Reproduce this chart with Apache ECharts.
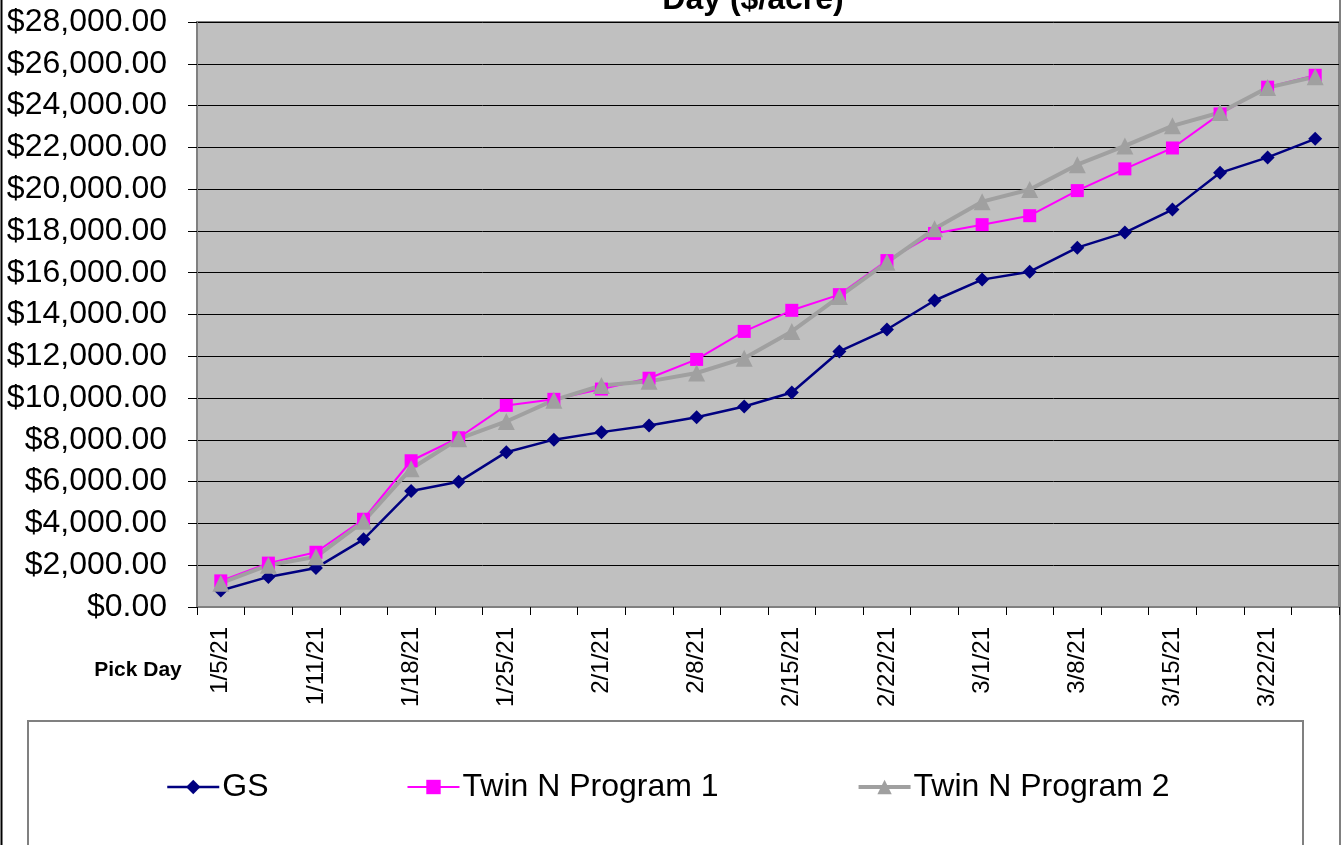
<!DOCTYPE html>
<html>
<head>
<meta charset="utf-8">
<script src="https://cdn.jsdelivr.net/npm/echarts@6/dist/echarts.min.js"></script>
<style>
html,body{margin:0;padding:0;background:#fff;}
#chart{width:1342px;height:845px;}
</style>
</head>
<body>
<div id="chart"></div>
<script>
const categories = ['1/5/21','1/8/21','1/11/21','1/14/21','1/18/21','1/21/21','1/25/21','1/28/21','2/1/21','2/4/21','2/8/21','2/11/21','2/15/21','2/18/21','2/22/21','2/25/21','3/1/21','3/4/21','3/8/21','3/11/21','3/15/21','3/18/21','3/22/21','3/25/21'];
const gsValues = [790, 1440, 1870, 3240, 5550, 5990, 7410, 8010, 8370, 8690, 9080, 9600, 10270, 12230, 13280, 14670, 15670, 16050, 17200, 17920, 19020, 20780, 21520, 22410];
const program1Values = [1250, 2100, 2620, 4200, 7000, 8100, 9650, 9940, 10430, 10950, 11850, 13190, 14200, 14950, 16580, 17880, 18300, 18730, 19930, 20970, 21970, 23600, 24880, 25450];
const program2Values = [1140, 2000, 2400, 4100, 6620, 8050, 8880, 9900, 10600, 10800, 11200, 11910, 13190, 14860, 16500, 18100, 19400, 19980, 21170, 22070, 23030, 23670, 24860, 25380];
const yTicks = { min: 0, max: 28000, step: 2000 };
const seriesNames = ['GS', 'Twin N Program 1', 'Twin N Program 2'];
const titleText = 'Day ($/acre)';
const xAxisTitle = 'Pick Day';

const chart = echarts.init(document.getElementById('chart'), null, {renderer: 'canvas'});
const FONT = 'Liberation Sans, Arial, sans-serif';
const colors = ['#000080', '#FF00FF', '#A0A0A0'];
const widths = [2.5, 2, 4];

const option = {
  animation: false,
  backgroundColor: '#ffffff',
  grid: {
    left: 197, top: 22, right: 3, bottom: 238,
    show: true, backgroundColor: '#C0C0C0', borderColor: '#808080', borderWidth: 2
  },
  legend: {
    left: 161, top: 766,
    itemGap: 138, itemWidth: 52, itemHeight: 18,
    textStyle: { fontFamily: FONT, fontSize: 32, color: '#000', padding: [0,0,0,-2] },
    data: seriesNames.map((n, i) => ({ name: n, lineStyle: { color: colors[i], width: widths[i] }, itemStyle: { color: colors[i] } }))
  },
  xAxis: {
    type: 'category', data: categories, boundaryGap: true,
    axisLine: { show: true, lineStyle: { color: '#808080', width: 2 } },
    axisTick: { show: true, length: 8, interval: 0, alignWithLabel: false, lineStyle: { color: '#000', width: 1 } },
    axisLabel: { interval: 1, rotate: 90, margin: 20, fontFamily: FONT, fontSize: 24, color: '#000' },
    splitLine: { show: false }
  },
  yAxis: {
    type: 'value', min: yTicks.min, max: yTicks.max, interval: yTicks.step,
    axisLine: { show: true, lineStyle: { color: '#808080', width: 2 } },
    axisTick: { show: true, length: 9, lineStyle: { color: '#000', width: 1 } },
    axisLabel: {
      margin: 30, fontFamily: FONT, fontSize: 32, color: '#000',
      formatter: v => '$' + v.toLocaleString('en-US', {minimumFractionDigits: 2, maximumFractionDigits: 2})
    },
    splitLine: { show: true, lineStyle: { color: '#000', width: 1 } }
  },
  series: [
    { name: seriesNames[0], type: 'line', data: gsValues, symbol: 'diamond', symbolSize: 14,
      itemStyle: { color: colors[0] }, lineStyle: { color: colors[0], width: widths[0] } },
    { name: seriesNames[1], type: 'line', data: program1Values, symbol: 'rect', symbolSize: 13,
      itemStyle: { color: colors[1] }, lineStyle: { color: colors[1], width: widths[1] } },
    { name: seriesNames[2], type: 'line', data: program2Values, symbol: 'triangle', symbolSize: 17,
      itemStyle: { color: colors[2] }, lineStyle: { color: colors[2], width: widths[2] } }
  ],
  graphic: [
    { type: 'rect', silent: true, z: -1, shape: { x: 28, y: 721, width: 1275, height: 140 },
      style: { fill: '#fff', stroke: '#808080', lineWidth: 2 } },
    { type: 'line', silent: true, shape: { x1: 1.5, y1: 0, x2: 1.5, y2: 845 }, style: { stroke: '#000', lineWidth: 2 } },
    { type: 'line', silent: true, shape: { x1: 1340, y1: 0, x2: 1340, y2: 845 }, style: { stroke: '#808080', lineWidth: 2 } },
    { type: 'text', silent: true, style: { text: titleText, x: 753, y: 0, align: 'center', verticalAlign: 'middle',
      font: 'bold 32px ' + FONT, fill: '#000' } },
    { type: 'text', silent: true, style: { text: xAxisTitle, x: 138, y: 670, align: 'center', verticalAlign: 'middle',
      font: 'bold 21px ' + FONT, fill: '#000' } }
  ]
};
chart.setOption(option);
</script>
</body>
</html>
